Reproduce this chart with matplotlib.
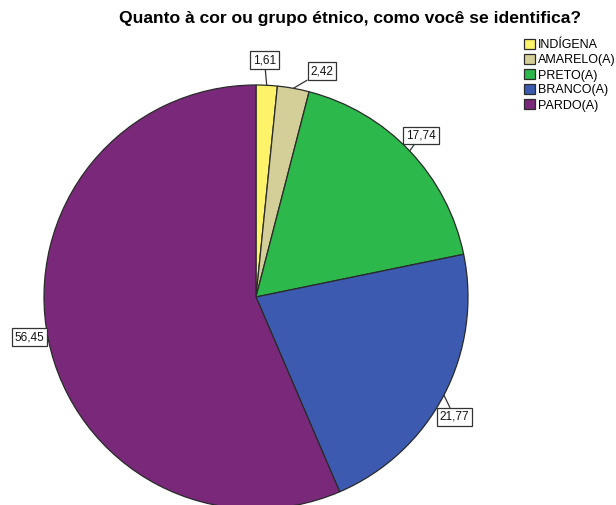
import numpy as np
import matplotlib.pyplot as plt

plt.rcParams['font.family'] = ['Liberation Sans', 'DejaVu Sans']

# Data
categories = ['INDÍGENA', 'AMARELO(A)', 'PRETO(A)', 'BRANCO(A)', 'PARDO(A)']
values = [1.61, 2.42, 17.74, 21.77, 56.45]
labels = ['1,61', '2,42', '17,74', '21,77', '56,45']
colors = ['#fdf36a', '#d4cf98', '#2cb84b', '#3c5bb0', '#7a297a']
# label box centres (data units, pie radius = 1)
label_pos = [(0.040, 1.116), (0.311, 1.064), (0.778, 0.762),
             (0.936, -0.566), (-1.068, -0.189)]

fig = plt.figure(figsize=(6.16, 5.05), dpi=100)
W, H = 616, 505
cx, cy, r = 256, 505 - 297, 212
ax = fig.add_axes([(cx - r) / W, (cy - r) / H, 2 * r / W, 2 * r / H])

wedges, _ = ax.pie(values, colors=colors, startangle=90, counterclock=False,
                   radius=1, wedgeprops=dict(edgecolor='#2a2a2a', linewidth=0.9))
ax.set_xlim(-1, 1)
ax.set_ylim(-1, 1)
ax.set_aspect('equal')
ax.axis('off')
for w in wedges:
    w.set_clip_on(False)

for w, lab, pos in zip(wedges, labels, label_pos):
    ang = np.deg2rad((w.theta1 + w.theta2) / 2)
    x, y = np.cos(ang), np.sin(ang)
    ax.annotate(lab, xy=(x, y), xytext=pos, ha='center', va='center',
                fontsize=8.5, color='#111111',
                bbox=dict(boxstyle='square,pad=0.25', fc='white', ec='#333333', lw=0.9),
                arrowprops=dict(arrowstyle='-', color='#333333', lw=0.9,
                                shrinkA=0, shrinkB=0),
                annotation_clip=False)

fig.text(350 / W, 1 - 18 / H, 'Quanto à cor ou grupo étnico, como você se identifica?',
         ha='center', va='center', fontsize=12.6, fontweight='bold')

fig.legend(wedges, categories, loc='upper left', bbox_to_anchor=(524 / W, 1 - 39 / H),
           frameon=False, fontsize=9, handlelength=0.9, handleheight=0.9,
           handletextpad=0.2, labelspacing=0.2, borderpad=0, borderaxespad=0)

fig.savefig('out.png', dpi=100)
